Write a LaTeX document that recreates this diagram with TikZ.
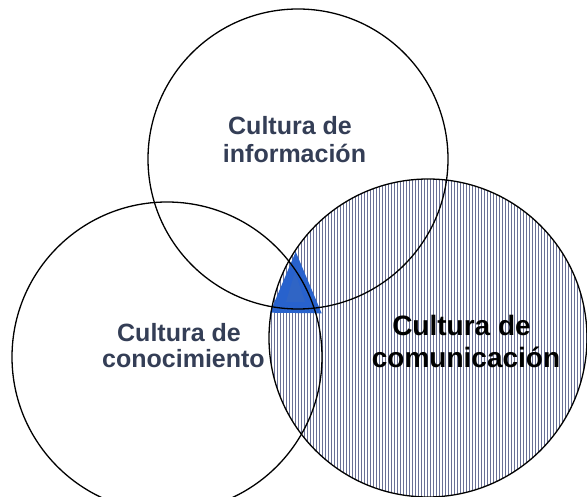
\documentclass[tikz,border=0pt]{standalone}
\usepackage{fontspec}
\setmainfont{Liberation Sans}
\definecolor{slate}{RGB}{52,62,86}
\definecolor{hatch}{RGB}{105,112,150}
\definecolor{triblue}{RGB}{40,98,205}
\begin{document}
\begin{tikzpicture}[x=1pt,y=-1pt,
  ring/.style={draw=black,line width=1.3pt},
  lbl/.style={font=\bfseries\fontsize{25}{28}\selectfont,text=slate,anchor=base,inner sep=0pt},
  lblbig/.style={font=\bfseries\fontsize{28}{32}\selectfont,text=black,anchor=base,inner sep=0pt}]
\useasboundingbox (0,0) rectangle (587,497);
\fill[white] (0,0) rectangle (587,497);
\coordinate (ci) at (298,159);
\coordinate (ck) at (167,357);
\coordinate (cc) at (428,338);
% hatching of right circle
\begin{scope}
  \clip (cc) circle[radius=159];
  \foreach \i in {268,271,...,590}{
    \draw[hatch,line width=0.5pt] (\i,170) -- (\i,500);
  }
\end{scope}
% blue triangle
\coordinate (ta) at (295.7,251.7);
\coordinate (tb) at (270,312.7);
\coordinate (tc) at (321.7,313.3);
\fill[triblue] (ta) -- (tb) -- (tc) -- cycle;
\fill[triblue!60!gray,opacity=0.25] (295,272) -- (286,302) -- (305,302) -- cycle;
% circles
\draw[ring] (ci) circle[radius=150];
\draw[ring] (ck) circle[radius=155];
\draw[ring] (cc) circle[radius=159];
% labels
\node[lbl] (i1) at (290,135) {Cultura de};
\node[lbl] (i2) at (294.5,163) {información};
\node[lbl] (k1) at (179,342) {Cultura de};
\node[lbl] (k2) at (183.5,368) {conocimiento};
\node[lblbig] (m1) at (461.5,336) {Cultura de};
\node[lblbig] (m2) at (466,368) {comunicación};
\end{tikzpicture}
\end{document}
